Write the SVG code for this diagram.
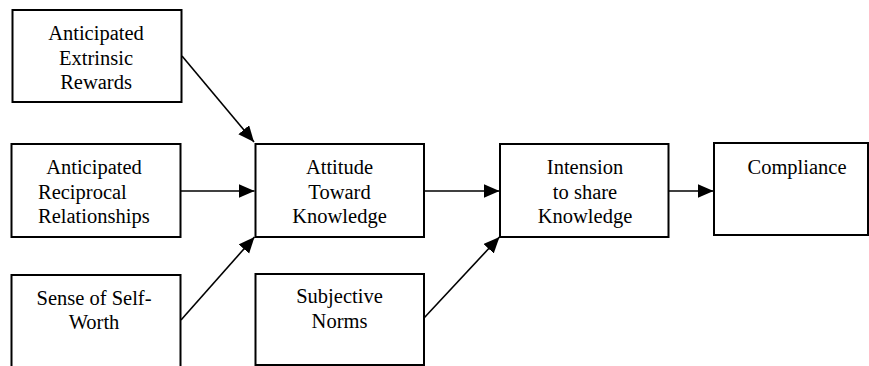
<svg xmlns="http://www.w3.org/2000/svg" width="869" height="366" viewBox="0 0 869 366">
<style>
rect{fill:#fff;stroke:#000;stroke-width:2}
text{font-family:'Liberation Serif','Times New Roman',Times,'DejaVu Serif',serif;font-size:20.5px;fill:#000;text-anchor:middle}
.s{text-anchor:start}
.c line{stroke:#000;stroke-width:1.6;marker-end:url(#ah)}
</style>
<defs>
<marker id="ah" markerUnits="userSpaceOnUse" markerWidth="17" markerHeight="15" refX="16" refY="7" orient="auto">
<path d="M0,0 L16,7 L0,14 z" fill="#000"/>
</marker>
</defs>
<rect x="0" y="0" width="869" height="366" style="stroke:none;fill:#fff"/>
<g id="n-extrinsic" font-family="Liberation Serif, DejaVu Serif, serif">
<rect x="12.5" y="10" width="169" height="92"/>
<text x="96" y="40">Anticipated</text>
<text x="96" y="64.5">Extrinsic</text>
<text x="96" y="89">Rewards</text>
</g>
<g id="n-reciprocal">
<rect x="11.5" y="144" width="169" height="93"/>
<text x="94" y="174">Anticipated</text>
<text class="s" x="38" y="198.5">Reciprocal</text>
<text class="s" x="38" y="223">Relationships</text>
</g>
<g id="n-selfworth">
<rect x="11.5" y="275" width="169" height="100"/>
<text x="94" y="305">Sense of Self-</text>
<text x="94" y="329">Worth</text>
</g>
<g id="n-attitude">
<rect x="255.5" y="144" width="168.5" height="93"/>
<text x="339.5" y="174">Attitude</text>
<text x="339.5" y="198.5">Toward</text>
<text x="339.5" y="223">Knowledge</text>
</g>
<g id="n-subjective">
<rect x="255.5" y="274" width="168.5" height="91"/>
<text x="339.5" y="303">Subjective</text>
<text x="339.5" y="328">Norms</text>
</g>
<g id="n-intension">
<rect x="500" y="144" width="168.5" height="93"/>
<text x="585" y="174">Intension</text>
<text x="585" y="198.5">to share</text>
<text x="585" y="223">Knowledge</text>
</g>
<g id="n-compliance">
<rect x="714" y="143" width="154" height="92"/>
<text x="797" y="174">Compliance</text>
</g>
<g id="connectors" class="c">
<line x1="182" y1="56" x2="254" y2="142"/>
<line x1="181" y1="191" x2="254.5" y2="191"/>
<line x1="181" y1="320" x2="254.5" y2="237"/>
<line x1="424" y1="191" x2="499.5" y2="191"/>
<line x1="424" y1="318" x2="499.5" y2="237"/>
<line x1="669" y1="191" x2="713.5" y2="191"/>
</g>
</svg>
